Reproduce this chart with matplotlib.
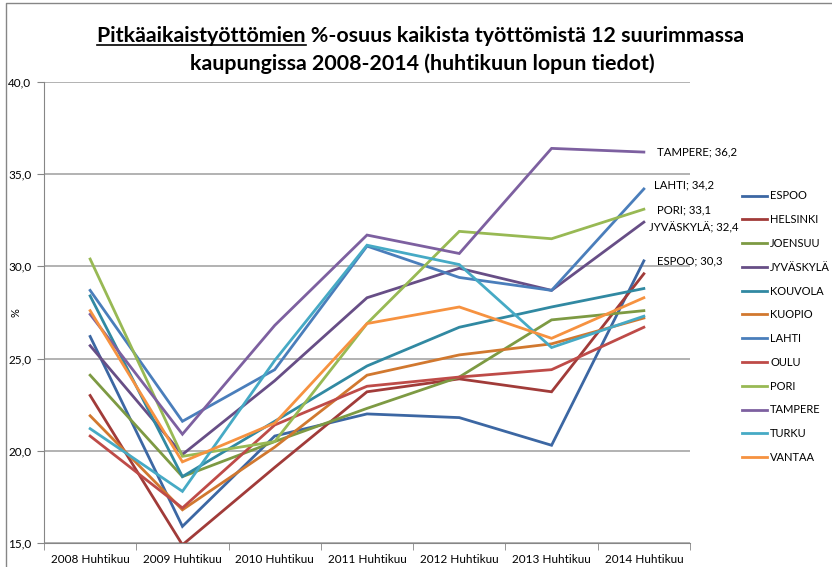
import matplotlib
matplotlib.use('Agg')
import matplotlib.pyplot as plt
from matplotlib.lines import Line2D

plt.rcParams['font.family'] = ['Lato', 'DejaVu Sans']

years = ['2008 Huhtikuu', '2009 Huhtikuu', '2010 Huhtikuu', '2011 Huhtikuu',
         '2012 Huhtikuu', '2013 Huhtikuu', '2014 Huhtikuu']

# osuudet (%) huhtikuun lopussa 2008-2014
espoo = [26.2, 15.9, 20.8, 22.0, 21.8, 20.3, 30.3]
helsinki = [23.0, 14.9, 19.1, 23.2, 23.9, 23.2, 29.6]
joensuu = [24.1, 18.6, 20.5, 22.3, 24.0, 27.1, 27.6]
jyvaskyla = [25.7, 19.8, 23.8, 28.3, 29.9, 28.7, 32.4]
kouvola = [28.4, 18.6, 21.6, 24.6, 26.7, 27.8, 28.8]
kuopio = [21.9, 16.8, 20.2, 24.1, 25.2, 25.8, 27.2]
lahti = [28.7, 21.6, 24.4, 31.1, 29.4, 28.7, 34.2]
oulu = [20.8, 16.9, 21.4, 23.5, 24.0, 24.4, 26.7]
pori = [30.4, 19.7, 20.5, 26.9, 31.9, 31.5, 33.1]
tampere = [27.4, 20.9, 26.8, 31.7, 30.7, 36.4, 36.2]
turku = [21.2, 17.8, 24.9, 31.15, 30.1, 25.6, 27.3]
vantaa = [27.6, 19.4, 21.5, 26.9, 27.8, 26.1, 28.3]

names = ['ESPOO', 'HELSINKI', 'JOENSUU', 'JYVÄSKYLÄ', 'KOUVOLA', 'KUOPIO',
         'LAHTI', 'OULU', 'PORI', 'TAMPERE', 'TURKU', 'VANTAA']
series = [espoo, helsinki, joensuu, jyvaskyla, kouvola, kuopio,
          lahti, oulu, pori, tampere, turku, vantaa]
colors = ['#3C67A3', '#A13B39', '#7D9A43', '#674E86', '#3189A2', '#D1782F',
          '#4A7EBB', '#BE4B48', '#98B954', '#7D60A0', '#46AAC5', '#F69240']

# arvolaput viimeiselle vuodelle: nimi -> siirto pikseleinä
labels = {'TAMPERE': (13, 0), 'LAHTI': (10, 4), 'PORI': (13, -1),
          'JYVÄSKYLÄ': (5, -6), 'ESPOO': (13, 0)}

fig = plt.figure(figsize=(8.32, 5.67), dpi=100)
ax = fig.add_axes([44/832, 24/567, 646/832, 461/567])

x = list(range(len(years)))
for name, vals, c in zip(names, series, colors):
    ax.plot(x, vals, color=c, lw=2, label=name, solid_joinstyle='miter')
    if name in labels:
        dx, dy = labels[name]
        ax.annotate(f'{name}; {vals[-1]:.1f}'.replace('.', ','), (x[-1], vals[-1]),
                    xytext=(dx, dy), textcoords='offset pixels',
                    ha='left', va='center', fontsize=8.2, color='#000000')

ax.set_xlim(-0.5, len(years) - 0.5)
ax.set_ylim(15, 40)
ax.set_yticks([15, 20, 25, 30, 35, 40])
ax.set_yticklabels([f'{v:.1f}'.replace('.', ',') for v in [15, 20, 25, 30, 35, 40]])
ax.set_xticks(x)
ax.set_xticklabels(years)
ax.set_xticks([i - 0.5 for i in range(len(years) + 1)], minor=True)
ax.tick_params(axis='x', which='major', length=0, labelsize=8.5, pad=8)
ax.tick_params(axis='x', which='minor', length=5, color='#868686', direction='out')
ax.tick_params(axis='y', length=5, color='#868686', labelsize=8.5, pad=4)
ax.grid(axis='y', color='#A6A6A6', lw=1.2)
ax.set_axisbelow(True)
for s in ['top', 'right']:
    ax.spines[s].set_visible(False)
for s in ['left', 'bottom']:
    ax.spines[s].set_color('#868686')
ax.set_ylabel('%', fontsize=8)
ax.yaxis.set_label_coords(-(44 - 21) / 646, 0.5)

fig.legend(loc='upper left', bbox_to_anchor=(738/832, 1 - 186/567), frameon=False,
           fontsize=8, handlelength=2.2, handletextpad=0.3, labelspacing=1.15,
           borderaxespad=0)

# otsikko, ensimmäinen sana alleviivattuna
title_kw = dict(fontsize=15.4, fontweight='bold', ha='center', va='baseline')
t1 = fig.text(421/832, 1 - 42/567,
              'Pitkäaikaistyöttömien %-osuus kaikista työttömistä 12 suurimmassa', **title_kw)
fig.text(422/832, 1 - 70/567, 'kaupungissa 2008-2014 (huhtikuun lopun tiedot)', **title_kw)
fig.canvas.draw()
r = fig.canvas.get_renderer()
bb = t1.get_window_extent(r)
tmp = fig.text(0, 0, 'Pitkäaikaistyöttömien', fontsize=15.4, fontweight='bold')
w = tmp.get_window_extent(r).width
tmp.remove()
uy = (567 - 45) / 567
fig.add_artist(Line2D([bb.x0 / 832, (bb.x0 + w) / 832], [uy, uy], color='black', lw=1.2))

# kaavion reunaviiva
fig.add_artist(Line2D([6/832, 6/832, 1], [0, 1 - 3/567, 1 - 3/567], color='#868686', lw=1))

fig.savefig('out.png', dpi=100)
